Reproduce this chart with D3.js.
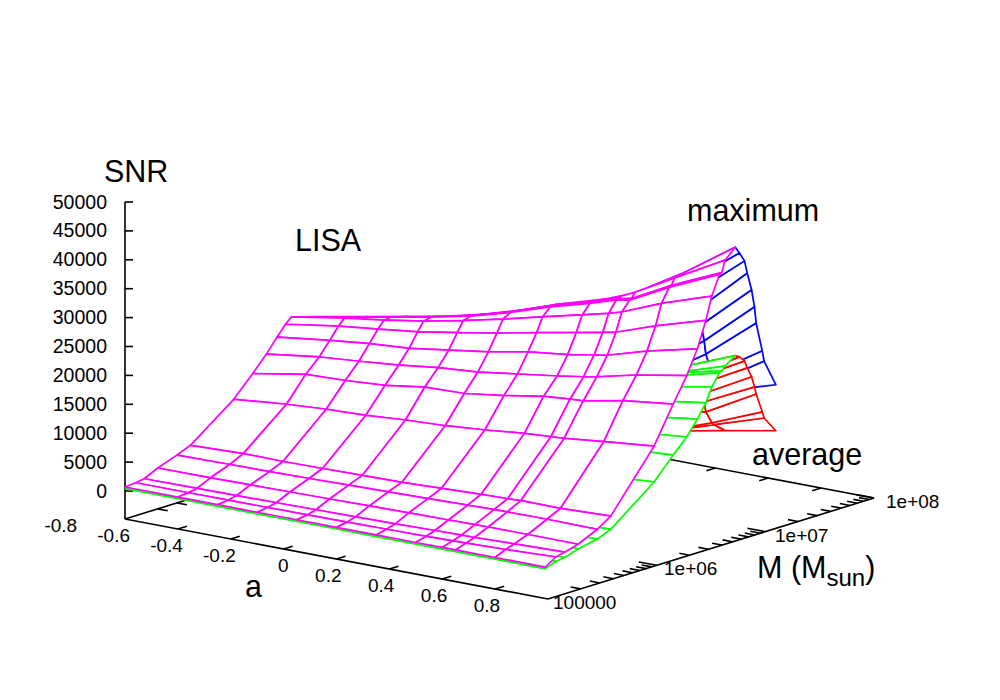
<!DOCTYPE html>
<html>
<head>
<meta charset="utf-8">
<script src="https://cdn.jsdelivr.net/npm/d3@7"></script>
<style>
  body { margin: 0; background: #fff; }
  text { font-family: "Liberation Sans", Arial, sans-serif; fill: #000; }
</style>
</head>
<body>
<div id="svg-container"></div>
<script>
// Tick values
var spinTicks = [-0.8, -0.6, -0.4, -0.2, 0, 0.2, 0.4, 0.6, 0.8];
var massTickLabels = ["100000", "1e+06", "1e+07", "1e+08"];
var massDecades = [1e5, 1e6, 1e7, 1e8];
var snrTicks = [0, 5000, 10000, 15000, 20000, 25000, 30000, 35000, 40000, 45000, 50000];

// Grid of the surfaces
var spinGrid = [-0.6, -0.4, -0.25, -0.1, 0.05, 0.2, 0.35, 0.5, 0.6, 0.65, 0.8, 0.99];
var spinEdge = [0.8, 0.99];
var spinTail = [0.65, 0.8, 0.99];
var massRise = [1e5, 1.25e5, 1.5e5, 2e5, 3e5, 4e5, 1e6, 1.5e6, 2e6, 2.5e6, 3e6, 3.4e6, 4e6, 4.2e6, 4.5e6, 5.6e6];
var massFall = [5.6e6, 6.1e6, 6.8e6, 7.2e6, 7.9e6, 8.4e6, 8.7e6, 9.9e6, 1.03e7, 1.32e7];

// Maximum SNR, rising side (one row per mass, one column per spin)
var maxRise = [
    [690, 680, 660, 650, 650, 640, 620, 610, 620, 620, 610, 590],
    [860, 860, 870, 900, 930, 970, 1040, 1110, 1190, 1230, 1430, 1770],
    [1090, 1150, 1210, 1270, 1350, 1420, 1510, 1650, 1710, 1740, 1930, 2150],
    [2230, 2260, 2320, 2400, 2490, 2580, 2690, 2750, 2800, 2830, 2830, 2790],
    [3430, 3540, 3600, 3710, 3860, 4000, 4130, 4280, 4390, 4420, 4440, 4350],
    [4400, 4700, 4620, 4710, 4810, 4910, 5180, 5440, 5530, 5650, 5610, 5900],
    [10040, 10910, 11350, 11600, 12080, 12390, 12950, 13660, 13940, 14090, 14820, 15680],
    [13470, 15050, 15300, 15740, 16730, 16940, 17870, 19020, 19410, 19540, 20900, 21930],
    [16110, 17340, 17900, 18510, 19400, 19920, 20880, 21830, 22570, 22990, 24600, 26150],
    [18470, 19640, 20380, 20850, 21840, 22850, 24150, 24970, 25770, 26160, 28170, 30190],
    [20250, 21640, 22430, 23260, 24430, 25620, 27020, 28320, 29220, 29670, 32080, 34670],
    [21200, 22710, 23660, 24790, 26180, 27720, 29410, 31060, 32180, 32860, 35650, 38560],
    [20770, 22490, 23790, 25050, 26560, 28470, 30720, 32630, 34090, 34510, 37990, 41880],
    [20670, 22380, 23680, 25000, 26550, 28530, 30870, 32690, 34160, 34670, 38230, 42110],
    [20480, 22200, 23500, 24850, 26440, 28440, 30860, 32670, 34490, 35570, 39340, 44060],
    [20010, 21740, 23040, 24380, 26070, 28150, 30490, 32560, 34370, 35660, 39780, 45750]
];

// Maximum SNR, falling side (only the part seen behind the ridge)
var maxFall = [
    [35660, 39780, 45750],
    [33310, 37900, 44550],
    [30730, 35730, 42900],
    [27790, 32630, 40660],
    [24700, 29830, 37520],
    [21950, 26900, 34410],
    [20050, 24530, 31540],
    [17300, 20850, 26380],
    [15750, 19080, 24520],
    [14410, 17110, 19790]
];

// Average SNR, front edge at M = 1e5
var avgFront = [430, 420, 400, 390, 390, 380, 360, 350, 360, 360, 350, 330];

// Average SNR, rising side near a = 1
var avgRise = [
    [350, 330],
    [1030, 1000],
    [1240, 1230],
    [2070, 1980],
    [2740, 2650],
    [3370, 3620],
    [8890, 9490],
    [12590, 13110],
    [14660, 15520],
    [16840, 18030],
    [19100, 20390],
    [21210, 22850],
    [22650, 24860],
    [23090, 25040],
    [22910, 25740],
    [23490, 26990]
];

// Average SNR, falling side
var avgFall = [
    [21180, 23490, 26990],
    [19470, 21460, 26560],
    [18620, 20830, 25600],
    [17410, 19630, 24230],
    [16050, 17800, 22470],
    [14690, 16350, 20570],
    [13300, 14500, 19250],
    [9840, 12290, 15830],
    [9630, 11870, 14660],
    [8870, 10190, 11830]
];

var svg = d3.select("#svg-container").append("svg")
    .attr("width", 1000)
    .attr("height", 700);

// Scales of the fixed 3D view
var spinX = d3.scaleLinear().domain([-0.6, 1]).range([0, 423]);
var spinY = d3.scaleLinear().domain([-0.6, 1]).range([0, 80]);
var massX = d3.scaleLog().domain([1e5, 1e8]).range([0, 326]);
var massY = d3.scaleLog().domain([1e5, 1e8]).range([0, -101]);
var snrY = d3.scaleLinear().domain([0, 50000]).range([0, -289]);
var floorSnr = snrY.invert(28);

var labelShift = d3.scaleLog().domain([1e5, 1e8]).range([5, 12]);

function project(spin, mass, snr) {
    return [
        125 + spinX(spin) + massX(mass),
        491 + spinY(spin) + massY(mass) + snrY(snr)
    ];
}

var line = d3.line();

function drawAxisLine(points, width) {
    svg.append("path")
        .attr("d", line(points))
        .attr("fill", "none")
        .attr("stroke", "black")
        .attr("stroke-width", width || 1.6);
}

// Floor of the box
drawAxisLine([
    project(-0.6, 1e5, floorSnr),
    project(1, 1e5, floorSnr),
    project(1, 1e8, floorSnr),
    project(-0.6, 1e8, floorSnr),
    project(-0.6, 1e5, floorSnr)
]);

// SNR axis
drawAxisLine([project(-0.6, 1e5, floorSnr), project(-0.6, 1e5, 50000)]);
snrTicks.forEach(function (d) {
    var p = project(-0.6, 1e5, d);
    drawAxisLine([p, [p[0] + 8, p[1]]]);
    svg.append("text")
        .attr("x", p[0] - 18)
        .attr("y", p[1] + 6.5)
        .attr("text-anchor", "end")
        .attr("font-size", 19.5)
        .text(d);
});

// Spin ticks on the front and back edge
spinTicks.forEach(function (d) {
    var p = project(d, 1e5, floorSnr);
    if (d >= -0.4) {
        drawAxisLine([p, project(d, 1.21e5, floorSnr)]);
        drawAxisLine([project(d, 1e8, floorSnr), project(d, 1e8 / 1.21, floorSnr)]);
    }
    svg.append("text")
        .attr("x", p[0] + 5)
        .attr("y", p[1] + 22.5)
        .attr("text-anchor", "end")
        .attr("font-size", 19)
        .text(d);
});

// Mass ticks on the right and left edge
massX.ticks().forEach(function (d) {
    var major = massDecades.indexOf(d) >= 0;
    var len = major ? 0.068 : 0.038;
    if (d > 1e5) {
        drawAxisLine([project(1, d, floorSnr), project(1 - len, d, floorSnr)]);
        drawAxisLine([project(-0.6, d, floorSnr), project(-0.6 + len, d, floorSnr)]);
    }
});
massDecades.forEach(function (d, i) {
    var p = project(1, d, floorSnr);
    svg.append("text")
        .attr("x", p[0] + labelShift(d))
        .attr("y", p[1] + 10)
        .attr("font-size", 19)
        .text(massTickLabels[i]);
});

// Draws one surface as white cells, back rows first, so it hides what is behind
function drawSurface(spins, masses, values, color) {
    var cells = d3.cross(d3.range(masses.length - 1).reverse(), d3.range(spins.length - 1));
    svg.append("g").selectAll("path")
        .data(cells)
        .join("path")
        .attr("d", function (c) {
            var j = c[0], i = c[1];
            return line([
                project(spins[i], masses[j], values[j][i]),
                project(spins[i + 1], masses[j], values[j][i + 1]),
                project(spins[i + 1], masses[j + 1], values[j + 1][i + 1]),
                project(spins[i], masses[j + 1], values[j + 1][i])
            ]) + "Z";
        })
        .attr("fill", "white")
        .attr("stroke", color)
        .attr("stroke-width", 1.7)
        .attr("stroke-linejoin", "round");
}

drawSurface(spinTail, massFall, maxFall, "#0000ff");
drawSurface(spinTail, massFall, avgFall, "#ff0000");
drawSurface(spinEdge, massRise, avgRise, "#00ff00");

// Average surface along the front edge
svg.append("path")
    .attr("d", line(spinGrid.map(function (a, i) { return project(a, 1e5, avgFront[i]); })))
    .attr("fill", "none")
    .attr("stroke", "#00ff00")
    .attr("stroke-width", 2);

drawSurface(spinGrid, massRise, maxRise, "#ff00ff");

// Titles
function addLabel(x, y, str) {
    return svg.append("text")
        .attr("x", x)
        .attr("y", y)
        .attr("font-size", 30.5)
        .text(str);
}
addLabel(104, 182, "SNR");
addLabel(295, 251, "LISA");
addLabel(687, 221, "maximum");
addLabel(752, 465, "average");
addLabel(245, 597, "a");

var massTitle = addLabel(757, 578, "M (M");
massTitle.append("tspan").attr("dy", 8).attr("font-size", 24).text("sun");
massTitle.append("tspan").attr("dy", -8).text(")");
</script>
</body>
</html>
